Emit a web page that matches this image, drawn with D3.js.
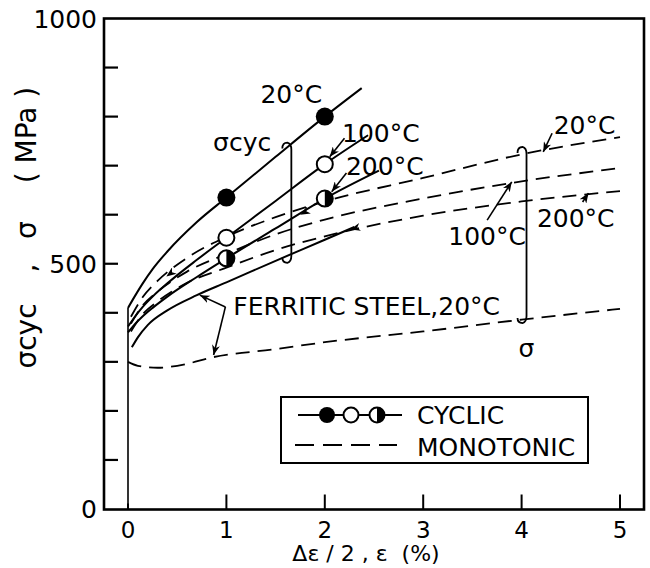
<!DOCTYPE html>
<html>
<head>
<meta charset="utf-8">
<script src="https://cdn.jsdelivr.net/npm/d3@7/dist/d3.min.js"></script>
<style>
  html, body { margin: 0; padding: 0; background: #fff; }
  svg text { font-family: 'DejaVu Sans', sans-serif; fill: #000; }
</style>
</head>
<body>
<main></main>
<script>
// strain (%) / stress (MPa)
const strainTicks = [0, 1, 2, 3, 4, 5]
const stressTicks = [100, 200, 300, 400, 500, 600, 700, 800, 900]
const stressLabels = [0, 500, 1000]

// cyclic curves (solid)
const cyc20 = [[0, 410], [0.07, 434], [0.15, 460], [0.25, 489], [0.4, 525], [0.7, 585], [1, 635], [1.5, 718], [2, 800], [2.375, 858]]
const cyc100 = [[0, 372], [0.07, 392], [0.15, 412], [0.25, 433], [0.4, 460], [0.7, 508], [1, 553], [1.5, 628], [2, 703], [2.44, 762]]
const cyc200 = [[0, 360], [0.07, 377], [0.15, 393], [0.25, 410], [0.4, 433], [0.7, 473], [1, 511], [1.5, 572], [2, 633], [2.55, 690]]
const cycFerritic = [[0.04, 330], [0.1, 350], [0.2, 375], [0.4, 405], [0.7, 436], [1, 462], [1.5, 506], [2, 549], [2.3, 575]]

// monotonic curves (dashed)
const mono20 = [[0.03, 392], [0.15, 432], [0.3, 465], [0.6, 512], [1, 555], [1.5, 595], [2, 627], [3, 675], [4, 723], [5, 758]]
const mono100 = [[0.03, 378], [0.15, 415], [0.3, 443], [0.6, 484], [1, 520], [1.5, 560], [2, 590], [3, 633], [4, 668], [5, 695]]
const mono200 = [[0.03, 362], [0.15, 397], [0.3, 423], [0.6, 461], [1, 492], [1.5, 528], [2, 556], [3, 598], [4, 627], [5, 648]]
const monoFerritic = [[0, 300], [0.1, 292], [0.3, 288], [0.6, 296], [0.83, 308], [1.5, 326], [2, 340], [3, 362], [4, 386], [5, 408]]

// measured points: filled = 20°C, open = 100°C, half = 200°C
const pts20 = [[1, 635], [2, 800]]
const pts100 = [[1, 553], [2, 703]]
const pts200 = [[1, 511], [2, 633]]

// labels: text, strain, stress (baseline), anchor
const labels = [
  ['20°C', 1.66, 828, 'middle'],
  ['σcyc', 1.16, 730, 'middle'],
  ['100°C', 2.57, 748, 'middle'],
  ['200°C', 2.61, 681, 'middle'],
  ['20°C', 4.64, 764, 'middle'],
  ['100°C', 3.65, 538, 'middle'],
  ['200°C', 4.55, 575, 'middle'],
  ['FERRITIC STEEL,20°C', 1.07, 395, 'start'],
  ['σ', 4.05, 310, 'middle']
]
// pointer arrows: from -> to
const pointers = [
  [[2.2, 756], [2.05, 718]],
  [[2.22, 685], [2.07, 647]],
  [[4.31, 766], [4.22, 728]],
  [[3.65, 589], [3.9, 667]],
  [[4.62, 626], [4.68, 644]],
  [[0.99, 412], [0.73, 436]],
  [[0.99, 412], [0.87, 314]]
]
// small arrowheads drawn on the curves
const curveArrows = [
  [[0.47, 486], [0.39, 474]],
  [[1.85, 611], [1.75, 600]],
  [[2.36, 575], [2.26, 570]]
]
// brackets: strain, stress top, stress bottom
const brackets = [[1.66, 745, 504], [4.05, 736, 381]]
// y axis title pieces: text, centre along the axis (px from top)
const yTitle = [['σcyc', 336], [',', 268], ['σ', 230], ['( MPa )', 135]]

const W = 650
const H = 568
const x = d3.scaleLinear().domain([0, 5]).range([128, 620])
const y = d3.scaleLinear().domain([0, 1000]).range([509, 18.5])
const frame = { left: 104, right: 644, top: 18.5, bottom: 509.5 }

const svg = d3.select('main').append('svg')
  .attr('width', W).attr('height', H)
  .attr('viewBox', '0,0,' + W + ',' + H)

svg.append('defs').append('marker')
  .attr('id', 'arr')
  .attr('markerUnits', 'userSpaceOnUse')
  .attr('viewBox', '0 0 10 8')
  .attr('refX', 10).attr('refY', 4)
  .attr('markerWidth', 10).attr('markerHeight', 8)
  .attr('orient', 'auto')
  .append('path')
  .attr('d', 'M0,0 L10,4 L0,8 L3,4 z')
  .style('fill', '#000')

// frame
svg.append('rect')
  .attr('x', frame.left).attr('y', frame.top)
  .attr('width', frame.right - frame.left)
  .attr('height', frame.bottom - frame.top)
  .style('fill', 'none').style('stroke', '#000').style('stroke-width', 2.6)

// ticks
svg.selectAll('.ytick').data(stressTicks).enter().append('line')
  .attr('x1', frame.left).attr('x2', frame.left + 14)
  .attr('y1', d => y(d)).attr('y2', d => y(d))
  .style('stroke', '#000').style('stroke-width', 2.2)
svg.selectAll('.xtick').data(strainTicks).enter().append('line')
  .attr('x1', d => x(d)).attr('x2', d => x(d))
  .attr('y1', frame.bottom).attr('y2', d => frame.bottom - (d === 0 ? 6 : 15))
  .style('stroke', '#000').style('stroke-width', 2)

svg.selectAll('.ylab').data(stressLabels).enter().append('text')
  .attr('x', 97).attr('y', d => y(d) + 9)
  .attr('text-anchor', 'end')
  .style('font-size', '25px')
  .text(d => d)
svg.selectAll('.xlab').data(strainTicks).enter().append('text')
  .attr('x', d => x(d)).attr('y', 538)
  .attr('text-anchor', 'middle')
  .style('font-size', '23px')
  .text(d => d)

svg.append('text')
  .attr('x', 366).attr('y', 561)
  .attr('text-anchor', 'middle')
  .style('font-size', '22px')
  .style('white-space', 'pre')
  .text('Δε / 2 , ε  (%)')
svg.selectAll('.ytitle').data(yTitle).enter().append('text')
  .attr('transform', d => 'translate(36,' + d[1] + ') rotate(-90)')
  .attr('text-anchor', 'middle')
  .style('font-size', '28px')
  .style('white-space', 'pre')
  .text(d => d[0])

// curves
const line = d3.line().x(d => x(d[0])).y(d => y(d[1])).curve(d3.curveMonotoneX)
svg.append('line')
  .attr('x1', x(0)).attr('x2', x(0)).attr('y1', y(0)).attr('y2', y(410))
  .style('stroke', '#000').style('stroke-width', 1.6)
const solid = [cyc20, cyc100, cyc200, cycFerritic]
const dashed = [mono20, mono100, mono200, monoFerritic]
svg.selectAll('.cyc').data(solid).enter().append('path')
  .attr('d', line)
  .style('fill', 'none').style('stroke', '#000').style('stroke-width', 2)
svg.selectAll('.mono').data(dashed).enter().append('path')
  .attr('d', line)
  .style('fill', 'none').style('stroke', '#000').style('stroke-width', 1.8)
  .style('stroke-dasharray', '14,8')

// markers
function halfCircle (g, cx, cy, r) {
  g.append('circle').attr('cx', cx).attr('cy', cy).attr('r', r)
    .style('fill', '#fff').style('stroke', '#000').style('stroke-width', 2)
  g.append('path')
    .attr('d', 'M' + cx + ',' + (cy - r) + ' A' + r + ',' + r + ' 0 0 1 ' + cx + ',' + (cy + r) + ' Z')
    .style('fill', '#000')
}
svg.selectAll('.p20').data(pts20).enter().append('circle')
  .attr('cx', d => x(d[0])).attr('cy', d => y(d[1])).attr('r', 9)
  .style('fill', '#000')
svg.selectAll('.p100').data(pts100).enter().append('circle')
  .attr('cx', d => x(d[0])).attr('cy', d => y(d[1])).attr('r', 8)
  .style('fill', '#fff').style('stroke', '#000').style('stroke-width', 2)
pts200.forEach(d => halfCircle(svg, x(d[0]), y(d[1]), 8))

// labels, pointers, brackets
svg.selectAll('.lab').data(labels).enter().append('text')
  .attr('x', d => x(d[1])).attr('y', d => y(d[2]))
  .attr('text-anchor', d => d[3])
  .style('font-size', '25px')
  .text(d => d[0])
svg.selectAll('.ptr').data(pointers).enter().append('line')
  .attr('x1', d => x(d[0][0])).attr('y1', d => y(d[0][1]))
  .attr('x2', d => x(d[1][0])).attr('y2', d => y(d[1][1]))
  .attr('marker-end', 'url(#arr)')
  .style('stroke', '#000').style('stroke-width', 1.6)
svg.selectAll('.carr').data(curveArrows).enter().append('line')
  .attr('x1', d => x(d[0][0])).attr('y1', d => y(d[0][1]))
  .attr('x2', d => x(d[1][0])).attr('y2', d => y(d[1][1]))
  .attr('marker-end', 'url(#arr)')
  .style('stroke', 'none')
svg.selectAll('.br').data(brackets).enter().append('path')
  .attr('d', d => {
    const bx = x(d[0]); const t = y(d[1]); const b = y(d[2])
    return 'M' + (bx - 9) + ',' + (t + 5) + ' Q' + (bx - 9) + ',' + (t - 1) + ' ' + (bx - 4) + ',' + (t - 1) +
      ' Q' + bx + ',' + t + ' ' + bx + ',' + (t + 6) + ' L' + bx + ',' + (b - 6) +
      ' Q' + bx + ',' + b + ' ' + (bx - 4) + ',' + (b + 1) + ' Q' + (bx - 9) + ',' + (b + 1) + ' ' + (bx - 9) + ',' + (b - 4)
  })
  .style('fill', 'none').style('stroke', '#000').style('stroke-width', 1.8)

// legend
const lg = svg.append('g')
lg.append('rect').attr('x', 281).attr('y', 397).attr('width', 307).attr('height', 66)
  .style('fill', '#fff').style('stroke', '#000').style('stroke-width', 2)
lg.append('line').attr('x1', 298).attr('x2', 402).attr('y1', 415).attr('y2', 415)
  .style('stroke', '#000').style('stroke-width', 2)
lg.append('circle').attr('cx', 327).attr('cy', 415).attr('r', 8).style('fill', '#000')
lg.append('circle').attr('cx', 351).attr('cy', 415).attr('r', 7.5)
  .style('fill', '#fff').style('stroke', '#000').style('stroke-width', 2)
halfCircle(lg, 377, 415, 7.5)
lg.append('line').attr('x1', 295).attr('x2', 397).attr('y1', 445).attr('y2', 445)
  .style('stroke', '#000').style('stroke-width', 1.8).style('stroke-dasharray', '19,9')
lg.append('text').attr('x', 417).attr('y', 424).style('font-size', '25px').text('CYCLIC')
lg.append('text').attr('x', 417).attr('y', 456).style('font-size', '25px').text('MONOTONIC')
</script>
</body>
</html>
